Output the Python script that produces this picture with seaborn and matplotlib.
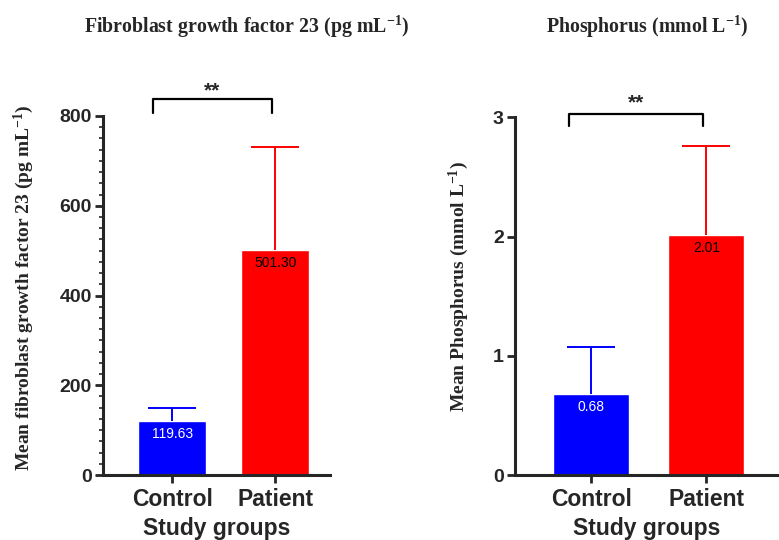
import matplotlib
matplotlib.use("Agg")
import matplotlib.pyplot as plt
import seaborn as sns
import pandas as pd
from matplotlib.ticker import MultipleLocator

groups = ["Control", "Patient"]
fgf_means = [119.63, 501.30]
fgf_sd = [30.0, 229.0]
phos_means = [0.68, 2.01]
phos_sd = [0.39, 0.75]
bar_colors = ["#0000ff", "#ff0000"]
label_colors = ["white", "black"]

sns.set_style("ticks")
plt.rcParams["mathtext.fontset"] = "custom"
plt.rcParams["mathtext.rm"] = "Liberation Serif:bold"
plt.rcParams["mathtext.bf"] = "Liberation Serif:bold"
plt.rcParams["mathtext.it"] = "Liberation Serif:bold"
plt.rcParams["mathtext.default"] = "bf"

fig = plt.figure(figsize=(7.79, 5.4), dpi=100)
ax1 = fig.add_axes([103/779, 65/540, 227/779, 359/540])
ax2 = fig.add_axes([515/779, 65/540, 264/779, 357.7/540])

def panel(ax, means, sds, ylim, major, minor, fmt, xlim, bracket_y, leg_y, star_y, labels_off, ylabel, ylabel_coords):
    df = pd.DataFrame({"group": groups, "value": means})
    sns.barplot(data=df, x="group", y="value", hue="group", palette=bar_colors,
                width=0.66, ax=ax, legend=False, saturation=1)
    for i, (m, s) in enumerate(zip(means, sds)):
        _, caps, _ = ax.errorbar(i, m, yerr=[[0], [s]], color=bar_colors[i], capsize=17,
                                 elinewidth=1.4, capthick=1.4, clip_on=False, zorder=1)
        caps[0].set_visible(False)
        ax.text(i, m - labels_off, fmt.format(m), ha="center", va="center",
                color=label_colors[i], fontsize=10, family="Liberation Sans")
    ax.set_ylim(*ylim)
    ax.set_xlim(*xlim)
    ax.yaxis.set_major_locator(MultipleLocator(major))
    if minor:
        ax.yaxis.set_minor_locator(MultipleLocator(minor))
    sns.despine(ax=ax)
    for sp in ["left", "bottom"]:
        ax.spines[sp].set_linewidth(2.2)
    ax.tick_params(axis="both", which="major", width=2.0, length=6)
    ax.tick_params(axis="y", which="major", pad=2)
    ax.tick_params(axis="y", which="minor", width=1.2, length=3)
    for t in ax.get_yticklabels():
        t.set_fontweight("bold"); t.set_family("Liberation Sans"); t.set_fontsize(14)
    ax.set_xticks(range(len(groups)))
    ax.set_xticklabels(groups, fontsize=16.5, fontweight="bold", family="Liberation Sans")
    ax.set_xlabel("Study groups", fontsize=16.5, fontweight="bold", family="Liberation Sans", labelpad=4)
    ax.set_ylabel(ylabel, fontsize=14.0, fontweight="bold", family="Liberation Serif")
    ax.yaxis.set_label_coords(*ylabel_coords)
    # significance bracket
    x0, x1 = -0.19, 0.97
    ax.plot([x0, x0, x1, x1], [leg_y, bracket_y, bracket_y, leg_y], color="black",
            lw=1.6, clip_on=False)
    ax.text((x0 + x1) / 2, star_y, "**", ha="center", va="center", fontsize=15,
            fontweight="bold", family="Liberation Sans")

panel(ax1, fgf_means, fgf_sd, (0, 800), 200, 25, "{:.2f}", (-0.67, 1.53),
      838, 806, 855, 28, r"Mean fibroblast growth factor 23 (pg mL$^{-1}$)", (-0.295, 0.52))
panel(ax2, phos_means, phos_sd, (0, 3), 1, None, "{:.2f}", (-0.66, 1.63),
      3.03, 2.93, 3.12, 0.11, r"Mean Phosphorus (mmol L$^{-1}$)", (-0.167, 0.528))

fig.text(247/779, 1 - 27/540, r"Fibroblast growth factor 23 (pg mL$^{-1}$)", ha="center", va="center",
         fontsize=14.3, fontweight="bold", family="Liberation Serif")
fig.text(647/779, 1 - 27/540, r"Phosphorus (mmol L$^{-1}$)", ha="center", va="center",
         fontsize=14.3, fontweight="bold", family="Liberation Serif")

fig.savefig("out.png", dpi=100)
